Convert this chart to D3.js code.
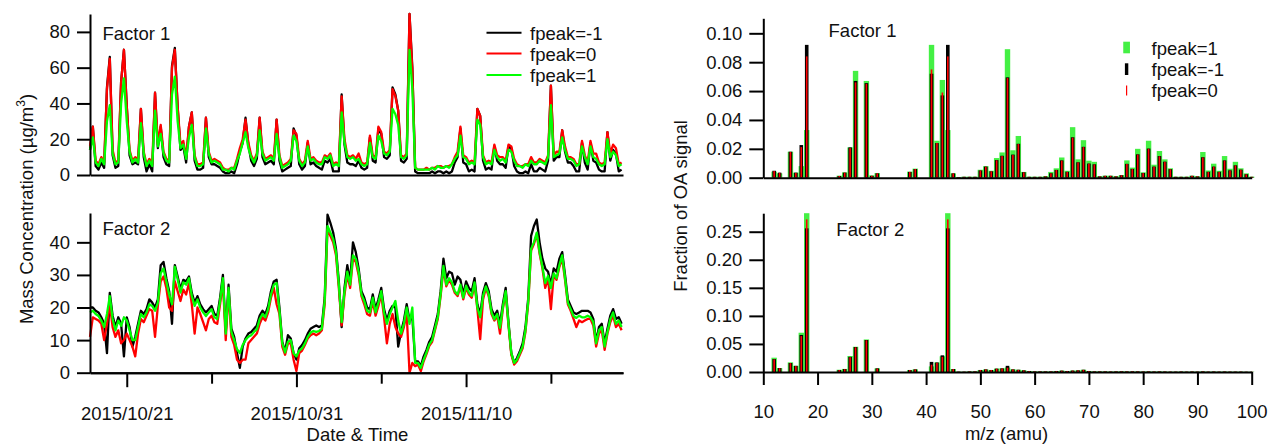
<!DOCTYPE html>
<html><head><meta charset="utf-8">
<script src="https://cdn.jsdelivr.net/npm/d3@7"></script>
<style>
body{margin:0;background:#fff;}
svg text{font-family:"Liberation Sans",Arial,sans-serif;fill:#111;}
</style></head><body>
<svg id="chart" width="1270" height="447"></svg>
<script>
// ---- Time series: factor mass concentrations (µg/m3), 4-hourly from 2015/10/18 20:00 ----
const seriesStart = new Date(2015, 9, 18, 20, 0);
const seriesEnd = new Date(2015, 10, 19, 6, 0);
const stepHours = 4;

const f1Black = [14,27,5,3,7,4,49,66,11,4, 5,52,70,39,11,6,7,6,37,10, 2,6,2,46,15,27,10,6,5,61, 71,38,14,16,7,27,35,8,3,3,
  4,32,10,6,6,5,4,2,1,1, 2,1,6,13,18,32,17,8,5,9, 32,10,6,7,8,6,31,8,2,3, 4,5,26,22,6,3,5,18,6,7, 5,4,3,8,7,9,2,2,2,45,
  17,7,6,6,5,8,4,3,4,21, 8,7,26,23,10,9,11,49,45,36, 8,7,9,90,60,2,1,1,1,1, 1,2,1,2,2,1,2,1,2,7, 10,26,7,6,2,3,2,37,33,8,
  3,4,3,16,8,6,6,4,16,15, 5,2,1,1,2,1,6,2,2,4, 3,2,8,50,8,10,10,25,13,7, 7,5,2,2,18,7,3,18,8,7, 3,2,2,24,8,14,12,2,3];
const f1Red = [16,27,8,6,10,7,48,65,14,7, 8,52,70,38,14,8,10,9,37,13, 6,9,6,46,17,28,13,9,8,60, 70,38,17,19,10,27,35,11,6,6,
  7,32,13,8,9,8,7,4,3,3, 4,4,9,15,20,31,18,11,8,12, 32,13,9,10,11,9,31,11,5,6, 7,9,25,23,9,6,8,19,9,10, 8,7,7,11,10,12,6,7,6,44,
  20,11,10,11,9,12,7,6,7,22, 11,10,27,24,13,12,14,48,44,36, 11,10,12,90,58,4,3,3,3,4, 3,4,4,5,5,4,5,5,6,10, 13,27,11,10,7,8,7,37,33,11,
  7,8,7,17,11,10,10,8,17,16, 9,6,5,5,6,6,10,7,7,9, 8,7,11,50,11,13,13,25,16,10, 10,9,6,6,19,11,7,19,12,12, 7,6,7,24,12,17,15,6,7];
const f1Green = [14,21,7,5,9,6,30,39,12,6, 7,40,54,30,13,7,9,7,29,12, 5,8,5,36,16,23,12,8,7,45, 55,30,15,17,9,21,28,10,5,5,
  6,26,12,7,8,7,6,3,3,2, 4,3,8,12,18,24,15,10,7,11, 25,12,8,9,10,8,23,10,4,5, 6,8,22,19,8,5,7,16,8,9, 7,6,6,10,9,11,5,6,5,35,
  18,10,9,10,8,9,6,5,6,18, 10,9,22,19,12,11,13,37,34,28, 10,9,11,70,48,4,3,3,3,3, 3,4,3,5,4,4,5,4,6,9, 11,22,10,9,6,7,6,31,28,10,
  6,7,6,14,10,8,9,7,14,13, 8,5,5,4,6,5,8,6,6,8, 7,6,10,39,10,11,12,21,14,9, 9,8,5,6,16,10,6,16,10,9, 6,5,6,20,10,13,11,5,6];

const f2Black = [20,20,19,18.5,17,15,6,24.5,17.5,14, 17,15,5,17,14,8,11,15,19,18, 19.5,22.5,21.5,20,22.5,33,34,29,25,15,
  33,29.5,25.5,28.5,28,29.5,24.5,21.5,23.5,21, 19.5,18.5,19.5,20.5,18,17.5,23,30,12.5,27, 13.5,11,6,1.5,8,10.5,12,12.5,13.5,14.5,
  17.5,19,18,20.5,25,28,28.5,20,9.5,6.5, 11.5,10.5,6,4,7.5,8.5,10,12,13.5,14, 14.5,14,14.5,23,48.5,46,43,38,28,14,
  26,33,28,40,37,32,25,23,20,19.5, 24,19.5,22.5,26,19.5,16,19,20.5,20,8, 12.5,16,21,16,17,3.5,3.5,2,5,7,
  9.5,11,14.5,18,25,35,29,31,30.5,27, 29.5,28.5,24,28,26,25,29,21,18,24.5, 27.5,25,19.5,17.5,19,15,21,26,15.5,6,
  3,4.5,6.5,9,14,23,42,45,47,40, 35,32,31,27,32,31,35,37,30,22.5, 20.5,18.5,18,18.5,19,19,19,18.5,16.5,9.5, 14,15,9,13.5,17.5,19.5,16.5,17,15];
const f2Red = [11,17,16.5,16,15,10,15,21,14,11, 13,9,10,12,10,8,5,12,16.5,15.5, 17.5,19.5,19,11,20.5,28,29.5,26,20,19,
  28,25,22,25.5,24,27.5,21,12,20,18, 15.5,13,16.5,17.5,15.5,15,21,28,10,25, 11,8.5,4,3,4,4,9,10,11,12,
  15,17,16,18.5,23,26,21,18,8,5.5, 9,9,4,0.5,6,6.8,8.5,10.5,11.5,12, 11.5,12,13,21,44,42,40,36,26,14.5,
  24,30,26,35,34,30,23.5,21,18,17.5, 22,17.5,20.5,24,17,9,15,18,14,12, 11,14,18,0,3,2,2.5,0.5,3.5,5.7,
  8.2,9.5,13,16.5,23.5,32,26.5,28.5,27,24.5, 23.5,26.5,22.5,26,24,23,27,19.5,10.3,22.5, 26,23.5,18,16,17.5,12,19.5,24.5,14.5,5.5,
  2.5,3.5,5.5,7.5,12.5,21.5,37.5,39.5,42.5,36.5, 32,26,29,19.5,30,28.5,32.5,35,28.5,21, 19,16.5,14,16,15.5,16,16.5,16.5,14.5,8, 12,13,7,12,15.5,17.5,14,15,13];
const f2Green = [18.5,19,18,17.4,16,14,18,23.5,16.5,13, 16,14.4,17,16,13,10,10,14,18,17, 18.5,21,20.5,19,21.5,30.5,32,28,24,21,
  32.5,28.7,24.6,27.7,27,29,23.6,20.5,22.5,20, 18.5,17.4,18.5,19.5,17,16.5,22,29,12,26, 12.5,10,7.2,6,8.5,10,11,11.5,12.5,13.3,
  16.4,18,17,19.5,24,27,27.5,19,9,6.2, 9.5,10,6,5,6.8,7.5,9,11,12.3,12.8, 12.5,12.8,13.5,22,45,43,41,37,27,15.5,
  25,31,27,36,35,31,24,22,19,18.5, 23,18.5,21.5,25,18.5,15,18,20,22,16, 12,15,20,15,20,3,3,1.5,4,6.2,
  8.7,10,13.5,17,24,32.8,27,29,27.7,25, 24,27,23,26.7,24.6,23.6,27.7,20,17,23.5, 26.5,24,18.5,16.4,18,13.8,20,25,15,6,
  3,4,6,8,13,22,38,40,43,37, 32.5,27.5,29.7,26,30.5,29,33,36,29,21.5, 19.5,17.4,16.8,17.5,17,17,17.5,17,15.5,9, 13,14,8,12.5,16.4,18.5,15,16,14];

const majorDates = ["2015/10/21", "2015/10/31", "2015/11/10"];
const minorDates = ["2015/10/26", "2015/11/05", "2015/11/15"];

// ---- Mass spectra: fraction of OA signal, m/z 12..100 ----
const mz = d3.range(12, 101);
const ms1Peak1 = [0.0042,0.003,0,0.018,0.0035,0.008,0.033,0,0,0, 0,0,0.0014,0.0037,0.021,0.074,0,0.067,0.0016,0.0032,
  0,0,0,0,0,0.0042,0.0063,0,0,0.092, 0.0256,0.0677,0.033,0.003,0.0005,0.0007,0.0007,0.0007,0.0055,0.008,
  0.0048,0.0136,0.0175,0.089,0.019,0.0289,0.004,0.0007,0.0007,0.0007, 0.001,0.004,0.0065,0.014,0.0048,0.035,0.0127,0.026,0.0118,0.011,
  0.001,0.0014,0.0014,0.001,0.0018,0.012,0.007,0.02,0.0037,0.0256, 0.009,0.0185,0.0127,0.0065,0.0007,0.0007,0.0007,0.0014,0.001,0.0178,
  0.005,0.0097,0.0048,0.015,0.0062,0.011,0.0065,0.003,0.0007];
const ms1PeakM1 = [0.0048,0.0035,0,0.018,0.0035,0.0226,0.092,0,0,0, 0,0,0.0012,0.0035,0.021,0.067,0,0.0655,0.0013,0.003,
  0,0,0,0,0,0.004,0.006,0,0,0.072, 0.024,0.057,0.092,0.003,0.0004,0.0006,0.0006,0.0006,0.005,0.0077,
  0.0044,0.0122,0.0152,0.0695,0.016,0.0235,0.0038,0.0006,0.0006,0.0006, 0.0009,0.0031,0.0054,0.012,0.0041,0.028,0.0107,0.0214,0.0098,0.0093,
  0.0009,0.0013,0.0013,0.0009,0.0017,0.0096,0.0061,0.0162,0.0033,0.0202, 0.0077,0.015,0.0111,0.0059,0.0006,0.0006,0.0006,0.0013,0.0009,0.0142,
  0.0041,0.0077,0.0041,0.012,0.0051,0.0086,0.0056,0.0024,0.0006];
const ms1Peak0 = [0.0046,0.0034,0,0.0178,0.0033,0.0212,0.084,0,0,0, 0,0,0.0012,0.0035,0.0205,0.066,0,0.065,0.0013,0.003,
  0,0,0,0,0,0.004,0.006,0,0,0.075, 0.024,0.059,0.084,0.003,0.0004,0.0006,0.0006,0.0006,0.005,0.0076,
  0.0044,0.012,0.015,0.069,0.0157,0.0233,0.0037,0.0006,0.0006,0.0006, 0.0009,0.003,0.0053,0.0118,0.004,0.0277,0.0106,0.0212,0.0097,0.0092,
  0.0009,0.0013,0.0013,0.0009,0.0017,0.0095,0.006,0.016,0.0032,0.02, 0.0076,0.0148,0.011,0.0058,0.0006,0.0006,0.0006,0.0013,0.0009,0.014,
  0.004,0.0076,0.004,0.0118,0.005,0.0085,0.0055,0.0023,0.0006];

const ms2Peak1 = [0.0255,0.007,0,0.0172,0.011,0.07,0.283,0,0,0, 0,0,0.004,0.0055,0.0285,0.045,0,0.058,0,0.0065,
  0,0,0,0,0,0.0036,0.0047,0,0,0.01, 0.017,0.028,0.283,0.0053,0.0005,0.0005,0.001,0.001,0.0036,0.0045,
  0.0036,0.006,0.0065,0.008,0.0047,0.004,0.003,0.0018,0.001,0.001, 0.001,0.001,0.0018,0.0024,0.0018,0.0024,0.003,0.004,0.0018,0.001,
  0.001,0.001,0.0008,0.001,0.0012,0.001,0.0008,0.001,0.0008,0.001, 0.0008,0.001,0.0008,0.0006,0.0006,0.0008,0.0006,0.0008,0.0006,0.001,
  0.0006,0.0008,0.0006,0.0008,0.0006,0.0006,0.0006,0.0004,0.0004];
const ms2PeakM1 = [0.023,0.007,0,0.016,0.011,0.066,0.256,0,0,0, 0,0,0.0036,0.0053,0.027,0.0445,0,0.057,0,0.0065,
  0,0,0,0,0,0.0036,0.0047,0,0,0.018, 0.017,0.0297,0.256,0.0053,0.0005,0.0005,0.001,0.001,0.0036,0.0047,
  0.0036,0.006,0.0065,0.011,0.0047,0.004,0.003,0.0018,0.001,0.001, 0.001,0.001,0.0018,0.0024,0.0018,0.0026,0.003,0.004,0.0018,0.001,
  0.001,0.001,0.0008,0.001,0.0012,0.001,0.0012,0.001,0.0008,0.001, 0.0008,0.001,0.0008,0.0006,0.0006,0.0008,0.0006,0.0008,0.0006,0.001,
  0.0006,0.0008,0.0006,0.0008,0.0006,0.0006,0.0006,0.0004,0.0004];
const ms2Peak0 = [0.0225,0.0068,0,0.0158,0.0105,0.064,0.272,0,0,0, 0,0,0.0034,0.005,0.0265,0.044,0,0.0565,0,0.006,
  0,0,0,0,0,0.0034,0.0045,0,0,0.013, 0.0165,0.027,0.272,0.005,0.0005,0.0005,0.001,0.001,0.0034,0.0045,
  0.0034,0.0058,0.0062,0.0077,0.0045,0.0038,0.0028,0.0017,0.001,0.001, 0.001,0.001,0.0017,0.0023,0.0017,0.0024,0.0028,0.0038,0.0017,0.001,
  0.001,0.001,0.0008,0.001,0.0011,0.001,0.0011,0.001,0.0008,0.001, 0.0008,0.001,0.0008,0.0006,0.0006,0.0008,0.0006,0.0008,0.0006,0.001,
  0.0006,0.0008,0.0006,0.0008,0.0006,0.0006,0.0006,0.0004,0.0004];
const mzTicks = [10, 20, 30, 40, 50, 60, 70, 80, 90, 100];

const legendLines = ["fpeak=-1", "fpeak=0", "fpeak=1"];
const legendBars = ["fpeak=1", "fpeak=-1", "fpeak=0"];

// ---- drawing ----
const svg = d3.select("#chart");
const FONT = 18.5;
const lineCol = {k: "#000000", r: "#ff0000", g: "#00ff00"};
const barGreen = "#44f044";
const parseDay = d3.timeParse("%Y/%m/%d");
const fmtDay = d3.timeFormat("%Y/%m/%d");

function styleAxis(g) {
  g.attr("font-family", null).attr("font-size", null);
  g.selectAll("path.domain").attr("stroke", "#000").attr("stroke-width", 2);
  g.selectAll(".tick line").attr("stroke", "#000").attr("stroke-width", 2);
  g.selectAll(".tick text").style("font-size", FONT + "px").attr("fill", "#111");
}

// time-series panels
const xTime = d3.scaleTime().domain([seriesStart, seriesEnd]).range([90, 623]);
const times = f1Green.map((_, i) => d3.timeHour.offset(seriesStart, i * stepHours));

function timePanel(yScale, yTicks, series, label, labelY) {
  const line = d3.line().x((d, i) => xTime(times[i])).y(d => yScale(d));
  const g = svg.append("g");
  [["k", series[0]], ["r", series[1]], ["g", series[2]]].forEach(([c, vals]) => {
    g.append("path").datum(vals).attr("d", line).attr("fill", "none")
      .attr("stroke", lineCol[c]).attr("stroke-width", 2.3).attr("stroke-linejoin", "round");
  });
  svg.append("g").attr("transform", "translate(90,0)")
    .call(d3.axisLeft(yScale).tickValues(yTicks).tickSize(13).tickSizeOuter(0).tickPadding(7))
    .call(styleAxis);
  svg.append("text").attr("x", 102.5).attr("y", labelY).style("font-size", FONT + "px").text(label);
}

const yF1 = d3.scaleLinear().domain([0, 90]).range([175, 14]);
const yF2 = d3.scaleLinear().domain([0, 49]).range([372.7, 213]);
timePanel(yF1, [0, 20, 40, 60, 80], [f1Black, f1Red, f1Green], "Factor 1", 40);
timePanel(yF2, [0, 10, 20, 30, 40], [f2Black, f2Red, f2Green], "Factor 2", 234.5);

// baseline of upper time panel
svg.append("g").attr("transform", `translate(0,${yF1(0)})`)
  .call(d3.axisBottom(xTime).tickValues([]).tickSizeOuter(0)).call(styleAxis);
// date axis of lower time panel: labelled 10-day ticks, short 5-day ticks
svg.append("g").attr("transform", `translate(0,${yF2(0)})`)
  .call(d3.axisBottom(xTime).tickValues(minorDates.map(parseDay)).tickSize(11).tickSizeOuter(0).tickFormat(""))
  .call(styleAxis);
svg.append("g").attr("transform", `translate(0,${yF2(0)})`)
  .call(d3.axisBottom(xTime).tickValues(majorDates.map(parseDay)).tickSize(14.5).tickSizeOuter(0)
    .tickPadding(20).tickFormat(fmtDay))
  .call(styleAxis);

svg.append("text").attr("x", 357.5).attr("y", 441).attr("text-anchor", "middle")
  .style("font-size", FONT + "px").text("Date & Time");
const yl = svg.append("text").attr("transform", "translate(33,209) rotate(-90)")
  .attr("text-anchor", "middle").style("font-size", FONT + "px");
yl.append("tspan").text("Mass Concentration (\u00b5g/m");
yl.append("tspan").attr("dy", -8).style("font-size", "12px").text("3");
yl.append("tspan").attr("dy", 8).text(")");

// line legend
legendLines.forEach((t, i) => {
  const cy = [32.7, 53.5, 75][i];
  const c = ["k", "r", "g"][i];
  svg.append("line").attr("x1", 486.5).attr("x2", 521.5).attr("y1", cy).attr("y2", cy)
    .attr("stroke", lineCol[c]).attr("stroke-width", 2);
  svg.append("text").attr("x", 530).attr("y", cy + 7).style("font-size", FONT + "px").text(t);
});

// spectra panels
const xMz = d3.scaleLinear().domain([10, 100]).range([763.3, 1251.7]);
const barW = {g: 5.4, k: 3.6, r: 1.6};

function specPanel(yScale, yTicks, series, label, lx, ly) {
  const g = svg.append("g");
  [["g", series[0], barGreen], ["k", series[1], "#000"], ["r", series[2], "#ff0000"]].forEach(([c, vals, col]) => {
    g.selectAll(null).data(vals).enter().append("rect")
      .attr("x", (d, i) => xMz(mz[i]) - barW[c] / 2)
      .attr("width", barW[c])
      .attr("y", d => yScale(Math.max(d, 0)))
      .attr("height", d => Math.abs(yScale(0) - yScale(d)))
      .attr("fill", col);
  });
  svg.append("g").attr("transform", "translate(763.3,0)")
    .call(d3.axisLeft(yScale).tickValues(yTicks).tickSize(14).tickSizeOuter(0).tickPadding(7)
      .tickFormat(d3.format(".2f")))
    .call(styleAxis);
  svg.append("text").attr("x", lx).attr("y", ly).attr("text-anchor", "middle")
    .style("font-size", FONT + "px").text(label);
}

const yS1 = d3.scaleLinear().domain([0, 0.1104]).range([177.7, 18.3]);
const yS2 = d3.scaleLinear().domain([0, 0.283]).range([372, 213.2]);
specPanel(yS1, [0, 0.02, 0.04, 0.06, 0.08, 0.10], [ms1Peak1, ms1PeakM1, ms1Peak0], "Factor 1", 862.5, 37.3);
specPanel(yS2, [0, 0.05, 0.10, 0.15, 0.20, 0.25], [ms2Peak1, ms2PeakM1, ms2Peak0], "Factor 2", 870.3, 236);

svg.append("g").attr("transform", `translate(0,${yS1(0)})`)
  .call(d3.axisBottom(xMz).tickValues([]).tickSizeOuter(0)).call(styleAxis);
svg.append("g").attr("transform", `translate(0,${yS2(0)})`)
  .call(d3.axisBottom(xMz).tickValues(mzTicks).tickSize(13).tickSizeOuter(0).tickPadding(20).tickFormat(d3.format("d")))
  .call(styleAxis);

svg.append("text").attr("x", 1006.5).attr("y", 440).attr("text-anchor", "middle")
  .style("font-size", FONT + "px").text("m/z (amu)");
svg.append("text").attr("transform", "translate(686.5,206) rotate(-90)").attr("text-anchor", "middle")
  .style("font-size", FONT + "px").text("Fraction of OA signal");

// bar legend
const legMarks = [
  {w: 6.7, y0: 41.7, h: 11.6, col: barGreen},
  {w: 3.4, y0: 63.3, h: 11.7, col: "#000"},
  {w: 1.2, y0: 85.5, h: 10, col: "#ff0000"}
];
legendBars.forEach((t, i) => {
  const m = legMarks[i];
  svg.append("rect").attr("x", 1126.6 - m.w / 2).attr("y", m.y0).attr("width", m.w).attr("height", m.h).attr("fill", m.col);
  svg.append("text").attr("x", 1151.5).attr("y", [55, 76, 96.7][i]).style("font-size", FONT + "px").text(t);
});
</script>
</body></html>
